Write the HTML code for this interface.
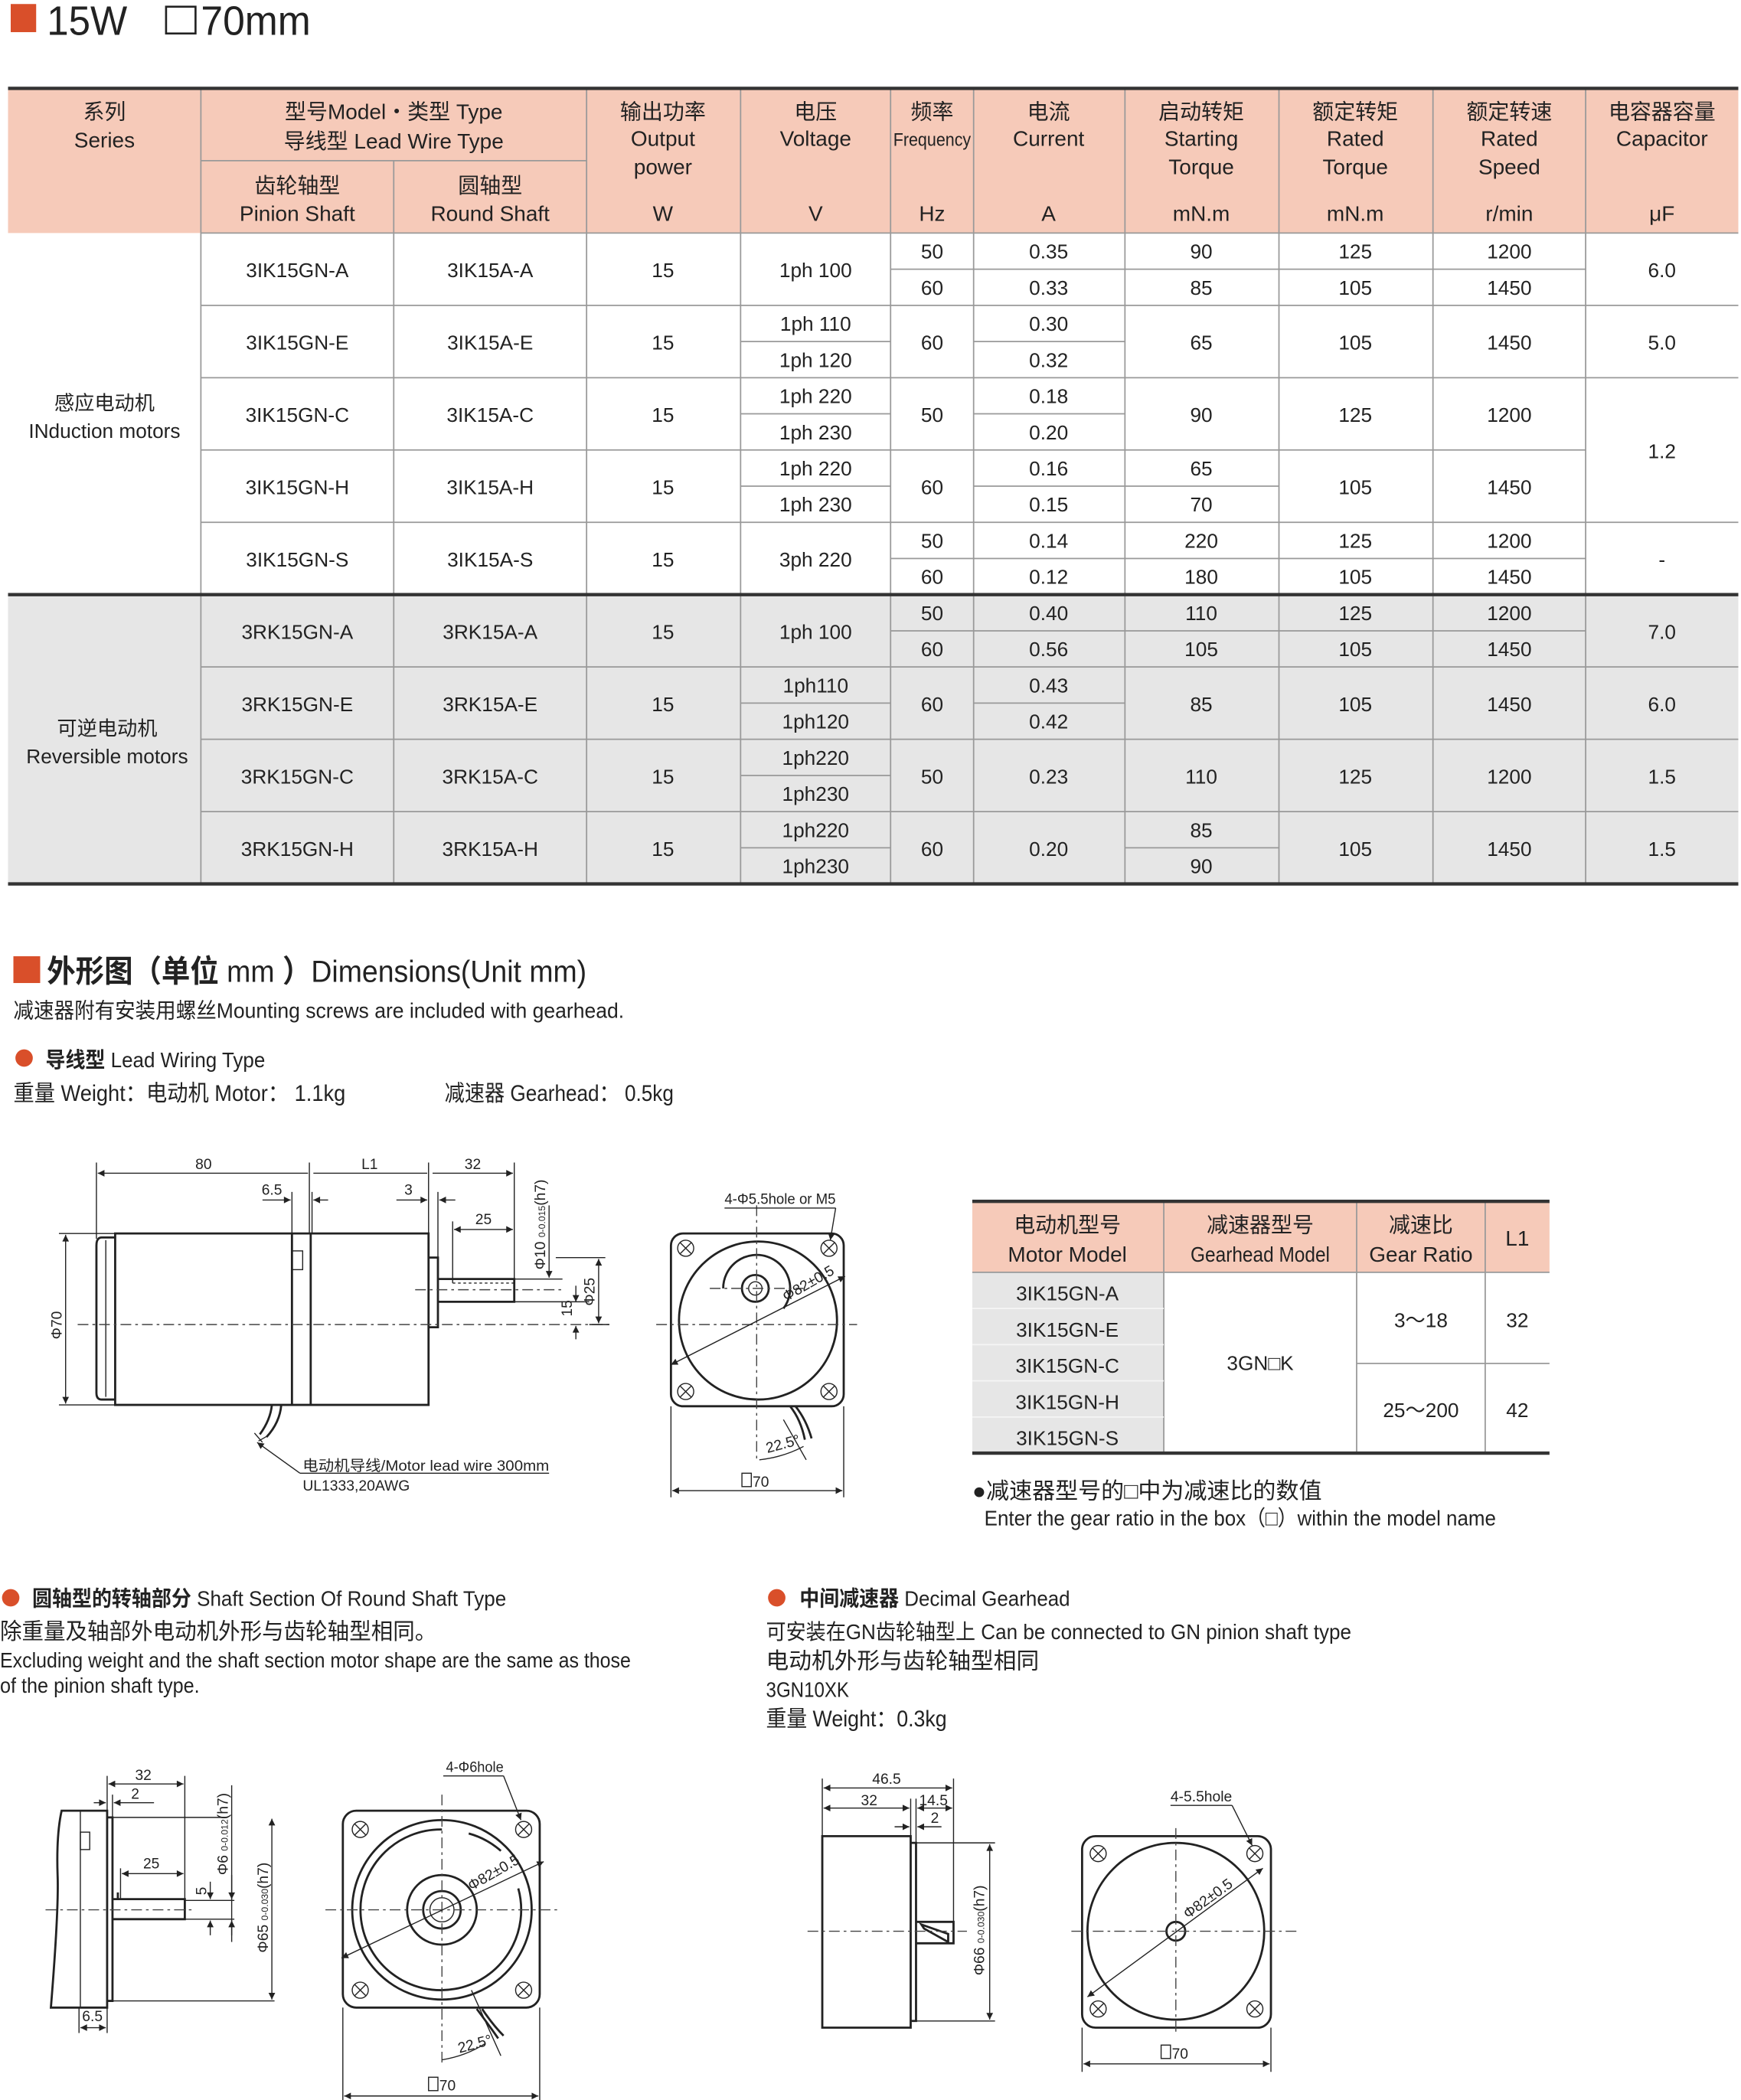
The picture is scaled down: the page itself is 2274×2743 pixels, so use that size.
<!DOCTYPE html>
<html><head><meta charset="utf-8">
<style>
html,body{margin:0;padding:0;background:#fff;}
svg{display:block;}
text{font-family:"Liberation Sans Narrow","Liberation Sans","Noto Sans CJK SC",sans-serif;fill:#222;}
.c{text-anchor:middle;}
.t{font-size:15px;}
.h{font-size:16px;}
.s{font-size:11px;}
.ln{stroke:#999;stroke-width:1;fill:none;}
.tk{stroke:#333;stroke-width:2.5;fill:none;}
.d{stroke:#222;stroke-width:1.6;fill:none;}
.th{stroke:#222;stroke-width:0.8;fill:none;}
.cl{stroke:#444;stroke-width:0.8;stroke-dasharray:8 3 2 3;fill:none;}
.ar{stroke:#222;stroke-width:0.8;fill:none;marker-start:url(#a);marker-end:url(#a);}
.ae{stroke:#222;stroke-width:0.8;fill:none;marker-end:url(#a);}
</style></head><body>
<svg width="2274" height="2743" viewBox="0 0 1300 1568" preserveAspectRatio="none" xmlns="http://www.w3.org/2000/svg">
<defs>
<marker id="a" viewBox="0 0 10 10" refX="10" refY="5" markerWidth="7" markerHeight="5" orient="auto-start-reverse" markerUnits="userSpaceOnUse"><path d="M0,0 L10,5 L0,10 z" fill="#222"/></marker>
</defs>
<rect width="1300" height="1568" fill="#fff"/>

<rect x="8" y="3" width="19" height="21" fill="#d94f2a"/>
<text x="35" y="26" style="font-size:31px" textLength="60" lengthAdjust="spacingAndGlyphs">15W</text>
<rect x="124" y="5" width="22" height="20" fill="none" stroke="#222" stroke-width="1.5"/>
<text x="150" y="26" style="font-size:31px" textLength="82" lengthAdjust="spacingAndGlyphs">70mm</text>

<rect x="6" y="66" width="1292" height="108" fill="#f6cab9"/>
<rect x="6" y="444" width="1292" height="216" fill="#e6e6e6"/>

<g class="ln">
<path d="M150 66V660M294 120V660M438 66V660M553 66V660M665 66V660M727 66V660M840 66V660M955 66V660M1070 66V660M1184 66V660"/>
<path d="M150 120H438M150 174H1298"/>
<path d="M150 228H1298M150 282H1298M150 336H1184M150 390H1298"/>
<path d="M665 201H1184"/>
<path d="M553 255H665M727 255H840"/>
<path d="M553 309H665M727 309H840"/>
<path d="M553 363H665M727 363H955"/>
<path d="M665 417H1184"/>
<path d="M150 498H1298M150 552H1298M150 606H1298"/>
<path d="M665 471H1184"/>
<path d="M553 525H665M727 525H840"/>
<path d="M553 579H665"/>
<path d="M553 633H665M840 633H955"/>
</g>
<g class="tk"><path d="M6 66H1298M6 444H1298M6 660H1298"/></g>

<g class="c h">
<text x="78" y="89">系列</text><text x="78" y="110">Series</text>
<text x="294" y="89">型号Model・类型 Type</text><text x="294" y="111">导线型 Lead Wire Type</text>
<text x="222" y="144">齿轮轴型</text><text x="222" y="165">Pinion Shaft</text>
<text x="366" y="144">圆轴型</text><text x="366" y="165">Round Shaft</text>
<text x="495" y="89">输出功率</text><text x="495" y="109">Output</text><text x="495" y="130">power</text><text x="495" y="165">W</text>
<text x="609" y="89">电压</text><text x="609" y="109">Voltage</text><text x="609" y="165">V</text>
<text x="696" y="89">频率</text><text x="696" y="109" style="font-size:14px" textLength="58" lengthAdjust="spacingAndGlyphs">Frequency</text><text x="696" y="165">Hz</text>
<text x="783" y="89">电流</text><text x="783" y="109">Current</text><text x="783" y="165">A</text>
<text x="897" y="89">启动转矩</text><text x="897" y="109">Starting</text><text x="897" y="130">Torque</text><text x="897" y="165">mN.m</text>
<text x="1012" y="89">额定转矩</text><text x="1012" y="109">Rated</text><text x="1012" y="130">Torque</text><text x="1012" y="165">mN.m</text>
<text x="1127" y="89">额定转速</text><text x="1127" y="109">Rated</text><text x="1127" y="130">Speed</text><text x="1127" y="165">r/min</text>
<text x="1241" y="89">电容器容量</text><text x="1241" y="109">Capacitor</text><text x="1241" y="165">μF</text>
</g>

<g class="c t">
<text x="78" y="306">感应电动机</text><text x="78" y="327">INduction motors</text>
<text x="80" y="549">可逆电动机</text><text x="80" y="570">Reversible motors</text>
<text x="222" y="207">3IK15GN-A</text><text x="366" y="207">3IK15A-A</text><text x="495" y="207">15</text><text x="609" y="207">1ph 100</text>
<text x="696" y="193">50</text><text x="696" y="220">60</text><text x="783" y="193">0.35</text><text x="783" y="220">0.33</text>
<text x="897" y="193">90</text><text x="897" y="220">85</text><text x="1012" y="193">125</text><text x="1012" y="220">105</text>
<text x="1127" y="193">1200</text><text x="1127" y="220">1450</text><text x="1241" y="207">6.0</text>
<text x="222" y="261">3IK15GN-E</text><text x="366" y="261">3IK15A-E</text><text x="495" y="261">15</text>
<text x="609" y="247">1ph 110</text><text x="609" y="274">1ph 120</text><text x="696" y="261">60</text>
<text x="783" y="247">0.30</text><text x="783" y="274">0.32</text><text x="897" y="261">65</text><text x="1012" y="261">105</text><text x="1127" y="261">1450</text><text x="1241" y="261">5.0</text>
<text x="222" y="315">3IK15GN-C</text><text x="366" y="315">3IK15A-C</text><text x="495" y="315">15</text>
<text x="609" y="301">1ph 220</text><text x="609" y="328">1ph 230</text><text x="696" y="315">50</text>
<text x="783" y="301">0.18</text><text x="783" y="328">0.20</text><text x="897" y="315">90</text><text x="1012" y="315">125</text><text x="1127" y="315">1200</text>
<text x="1241" y="342">1.2</text>
<text x="222" y="369">3IK15GN-H</text><text x="366" y="369">3IK15A-H</text><text x="495" y="369">15</text>
<text x="609" y="355">1ph 220</text><text x="609" y="382">1ph 230</text><text x="696" y="369">60</text>
<text x="783" y="355">0.16</text><text x="783" y="382">0.15</text><text x="897" y="355">65</text><text x="897" y="382">70</text><text x="1012" y="369">105</text><text x="1127" y="369">1450</text>
<text x="222" y="423">3IK15GN-S</text><text x="366" y="423">3IK15A-S</text><text x="495" y="423">15</text><text x="609" y="423">3ph 220</text>
<text x="696" y="409">50</text><text x="696" y="436">60</text><text x="783" y="409">0.14</text><text x="783" y="436">0.12</text>
<text x="897" y="409">220</text><text x="897" y="436">180</text><text x="1012" y="409">125</text><text x="1012" y="436">105</text>
<text x="1127" y="409">1200</text><text x="1127" y="436">1450</text><text x="1241" y="423">-</text>
<text x="222" y="477">3RK15GN-A</text><text x="366" y="477">3RK15A-A</text><text x="495" y="477">15</text><text x="609" y="477">1ph 100</text>
<text x="696" y="463">50</text><text x="696" y="490">60</text><text x="783" y="463">0.40</text><text x="783" y="490">0.56</text>
<text x="897" y="463">110</text><text x="897" y="490">105</text><text x="1012" y="463">125</text><text x="1012" y="490">105</text>
<text x="1127" y="463">1200</text><text x="1127" y="490">1450</text><text x="1241" y="477">7.0</text>
<text x="222" y="531">3RK15GN-E</text><text x="366" y="531">3RK15A-E</text><text x="495" y="531">15</text>
<text x="609" y="517">1ph110</text><text x="609" y="544">1ph120</text><text x="696" y="531">60</text>
<text x="783" y="517">0.43</text><text x="783" y="544">0.42</text><text x="897" y="531">85</text><text x="1012" y="531">105</text><text x="1127" y="531">1450</text><text x="1241" y="531">6.0</text>
<text x="222" y="585">3RK15GN-C</text><text x="366" y="585">3RK15A-C</text><text x="495" y="585">15</text>
<text x="609" y="571">1ph220</text><text x="609" y="598">1ph230</text><text x="696" y="585">50</text>
<text x="783" y="585">0.23</text><text x="897" y="585">110</text><text x="1012" y="585">125</text><text x="1127" y="585">1200</text><text x="1241" y="585">1.5</text>
<text x="222" y="639">3RK15GN-H</text><text x="366" y="639">3RK15A-H</text><text x="495" y="639">15</text>
<text x="609" y="625">1ph220</text><text x="609" y="652">1ph230</text><text x="696" y="639">60</text>
<text x="783" y="639">0.20</text><text x="897" y="625">85</text><text x="897" y="652">90</text><text x="1012" y="639">105</text><text x="1127" y="639">1450</text><text x="1241" y="639">1.5</text>
</g>

<rect x="10" y="714" width="20" height="20" fill="#d94f2a"/>
<text x="35" y="733" style="font-size:23px" textLength="403" lengthAdjust="spacingAndGlyphs"><tspan font-weight="bold">外形图（单位</tspan> mm <tspan font-weight="bold">）</tspan>Dimensions(Unit mm)</text>
<text x="10" y="760" style="font-size:16px" textLength="456" lengthAdjust="spacingAndGlyphs">减速器附有安装用螺丝Mounting screws are included with gearhead.</text>
<circle cx="18" cy="790" r="6.5" fill="#d94f2a"/>
<text x="34" y="797" style="font-size:16px" textLength="164" lengthAdjust="spacingAndGlyphs"><tspan font-weight="bold">导线型</tspan> Lead Wiring Type</text>
<text x="10" y="822" style="font-size:17px" textLength="248" lengthAdjust="spacingAndGlyphs">重量 Weight：电动机 Motor： 1.1kg</text>
<text x="332" y="822" style="font-size:17px" textLength="171" lengthAdjust="spacingAndGlyphs">减速器 Gearhead： 0.5kg</text>

<g>
<path class="th" d="M72 868V925M231 868V921M320 868V921M384 868V955M218 890V921M233 890V921M327 890V939M338 912V958M384 912V955"/>
<path class="ar" d="M73 876H230M234 876H319M323 876H383"/>
<text class="c s" x="152" y="873">80</text><text class="c s" x="276" y="873">L1</text><text class="c s" x="353" y="873">32</text>
<path class="ae" d="M196 896H217"/><path class="ae" d="M245 896H234"/><text class="c s" x="203" y="892">6.5</text>
<path class="ae" d="M296 896H319"/><path class="ae" d="M340 896H328"/><text class="c s" x="305" y="892">3</text>
<path class="ar" d="M339 918H383"/><text class="c s" x="361" y="914">25</text>
<path class="d" d="M86 921H320V1049H86Z"/>
<path class="d" d="M86 924H76Q72 924 72 930V1040Q72 1045 76 1045H86"/>
<path class="th" d="M79 926V1043"/>
<path class="d" d="M218 921V1049M232 921V1049"/>
<rect x="218" y="934" width="8" height="14" class="th"/>
<path class="d" d="M320 939H327V991H320"/>
<path class="d" d="M327 955H384V972H327"/>
<path class="th" stroke-dasharray="2 2" d="M338 958H384"/>
<path class="cl" d="M58 989H455M310 963H420"/>
<path class="th" d="M44 921H86M44 1049H86"/>
<path class="ar" d="M49 922V1048"/>
<text class="s" transform="translate(46 1000) rotate(-90)">Φ70</text>
<path class="th" d="M384 955H420M384 972H440M415 939H452M440 989H455"/>
<path class="ae" d="M410 900V954"/>
<text class="s" transform="translate(407 948) rotate(-90)">Φ10 <tspan style="font-size:7px">0-0.015</tspan>(h7)</text>
<path class="ae" d="M430 960V972"/><path class="ae" d="M430 1000V990"/>
<text class="s" transform="translate(427 983) rotate(-90)">15</text>
<path class="ar" d="M447 940V988"/>
<text class="s" transform="translate(444 975) rotate(-90)">Φ25</text>
<path class="d" d="M203 1049Q202 1060 194 1071M210 1049Q209 1062 199 1073"/>
<path class="th" d="M190 1070L196 1077M193 1076L200 1072"/>
<path class="ae" d="M224 1100L192 1077"/>
<path class="th" d="M224 1100H410"/>
<text class="s" x="226" y="1098" textLength="184" lengthAdjust="spacingAndGlyphs">电动机导线/Motor lead wire 300mm</text>
<text class="s" x="226" y="1113" textLength="80" lengthAdjust="spacingAndGlyphs">UL1333,20AWG</text>
</g>

<g>
<rect x="501" y="921" width="129" height="129" rx="9" class="d"/>
<circle cx="566" cy="986" r="59" class="d"/>
<path class="d" d="M540 962A25 25 0 1 1 585 977"/>
<circle cx="564" cy="962" r="10" class="d"/>
<circle cx="564" cy="962" r="5" class="th"/>
<g class="th"><circle cx="512" cy="932" r="6"/><circle cx="619" cy="932" r="6"/><circle cx="512" cy="1039" r="6"/><circle cx="619" cy="1039" r="6"/>
<path d="M508 928L516 936M516 928L508 936M615 928L623 936M623 928L615 936M508 1035L516 1043M516 1035L508 1043M615 1035L623 1043M623 1035L615 1043"/></g>
<path class="cl" d="M565 900V1090M490 989H640M530 962H600"/>
<path class="ar" d="M501 1019L631 953"/>
<text class="s" transform="translate(587 972) rotate(-30)">Φ82±0.5</text>
<text class="s" x="541" y="899" textLength="83" lengthAdjust="spacingAndGlyphs">4-Φ5.5hole or M5</text>
<path class="th" d="M541 902H624"/><path class="ae" d="M624 902L620 926"/>
<path class="d" d="M590 1050Q598 1060 601 1075M594 1050Q602 1060 606 1074"/>
<path class="th" d="M567 1090Q585 1088 600 1080M585 1060L602 1090"/>
<text class="s" x="572" y="1083" transform="rotate(-15 580 1080)">22.5°</text>
<path class="th" d="M501 1050V1118M630 1050V1118"/>
<path class="ar" d="M502 1113H629"/>
<rect x="554" y="1100" width="7" height="10" class="th"/>
<text class="s" x="562" y="1110">70</text>
</g>

<rect x="726" y="897" width="431" height="53" fill="#f6cab9"/>
<rect x="726" y="950" width="143" height="135" fill="#e6e6e6"/>
<g class="ln"><path d="M869 897V1085M1013 897V1085M1109 897V1085M1013 1018H1157M726 950H1157"/>
<path stroke="#f5f5f5" d="M726 977H869M726 1004H869M726 1031H869M726 1058H869"/></g>
<g class="tk"><path d="M726 897H1157M726 1085H1157"/></g>
<g class="c h">
<text x="797" y="920">电动机型号</text><text x="797" y="942">Motor Model</text>
<text x="941" y="920">减速器型号</text><text x="941" y="942" textLength="104" lengthAdjust="spacingAndGlyphs">Gearhead Model</text>
<text x="1061" y="920">减速比</text><text x="1061" y="942">Gear Ratio</text>
<text x="1133" y="930">L1</text>
</g>
<g class="c t">
<text x="797" y="971">3IK15GN-A</text><text x="797" y="998">3IK15GN-E</text><text x="797" y="1025">3IK15GN-C</text><text x="797" y="1052">3IK15GN-H</text><text x="797" y="1079">3IK15GN-S</text>
<text x="941" y="1023">3GN□K</text>
<text x="1061" y="991">3～18</text><text x="1133" y="991">32</text>
<text x="1061" y="1058">25～200</text><text x="1133" y="1058">42</text>
</g>
<text x="726" y="1119" style="font-size:17px" textLength="261" lengthAdjust="spacingAndGlyphs">●减速器型号的□中为减速比的数值</text>
<text x="735" y="1139" style="font-size:16px" textLength="382" lengthAdjust="spacingAndGlyphs">Enter the gear ratio in the box（□）within the model name</text>

<circle cx="8" cy="1193" r="6.5" fill="#d94f2a"/>
<text x="24" y="1199" style="font-size:16px" textLength="354" lengthAdjust="spacingAndGlyphs"><tspan font-weight="bold">圆轴型的转轴部分</tspan> Shaft Section Of Round Shaft Type</text>
<text x="0" y="1224" style="font-size:17px" textLength="326" lengthAdjust="spacingAndGlyphs">除重量及轴部外电动机外形与齿轮轴型相同。</text>
<text x="0" y="1245" style="font-size:16px" textLength="471" lengthAdjust="spacingAndGlyphs">Excluding weight and the shaft section motor shape are the same as those</text>
<text x="0" y="1264" style="font-size:16px" textLength="149" lengthAdjust="spacingAndGlyphs">of the pinion shaft type.</text>

<circle cx="580" cy="1193" r="6.5" fill="#d94f2a"/>
<text x="597" y="1199" style="font-size:16px" textLength="202" lengthAdjust="spacingAndGlyphs"><tspan font-weight="bold">中间减速器</tspan> Decimal Gearhead</text>
<text x="572" y="1224" style="font-size:16px" textLength="437" lengthAdjust="spacingAndGlyphs">可安装在GN齿轮轴型上 Can be connected to GN pinion shaft type</text>
<text x="572" y="1246" style="font-size:17px">电动机外形与齿轮轴型相同</text>
<text x="572" y="1267" style="font-size:16px" textLength="62" lengthAdjust="spacingAndGlyphs">3GN10XK</text>
<text x="572" y="1289" style="font-size:17px" textLength="135" lengthAdjust="spacingAndGlyphs">重量 Weight：0.3kg</text>

<g>
<path class="d" d="M46 1352H80V1499H38Q44 1425 43 1400Q42 1370 46 1352Z"/>
<path class="th" d="M60 1352V1499"/>
<rect x="60" y="1368" width="7" height="13" class="th"/>
<path class="d" d="M80 1357H84V1494H80"/>
<path class="d" d="M84 1418H138V1433H84M88 1418V1413"/>
<path class="cl" d="M34 1426H145"/>
<path class="th" d="M80 1326V1352M138 1326V1418M84 1340V1357M84 1357H170M84 1494H205M138 1419H175M138 1433H175"/>
<path class="ar" d="M81 1332H137"/><text class="c s" x="107" y="1329">32</text>
<path class="ae" d="M70 1346H79"/><path class="ae" d="M115 1346H85"/><text class="c s" x="101" y="1343">2</text>
<path class="th" d="M90 1395V1418"/>
<path class="ar" d="M91 1399H137"/><text class="c s" x="113" y="1395">25</text>
<path class="th" d="M59 1499V1518M80 1499V1518"/>
<path class="ar" d="M60 1514H79"/><text class="c s" x="69" y="1509">6.5</text>
<path class="th" d="M173 1333V1445"/><path class="ae" d="M173 1400V1418"/><path class="ae" d="M173 1450V1434"/>
<text class="s" transform="translate(170 1400) rotate(-90)">Φ6 <tspan style="font-size:7px">0-0.012</tspan>(h7)</text>
<path class="ae" d="M157 1405V1418"/><path class="ae" d="M157 1445V1434"/>
<text class="s" transform="translate(154 1415) rotate(-90)">5</text>
<path class="ar" d="M203 1358V1493"/>
<text class="s" transform="translate(200 1458) rotate(-90)">Φ65 <tspan style="font-size:7px">0-0.030</tspan>(h7)</text>
</g>
<g>
<rect x="256" y="1352" width="147" height="147" rx="10" class="d"/>
<circle cx="330" cy="1426" r="67" class="d"/>
<path class="d" d="M330 1366A60 60 0 1 0 387 1410M374 1382A60 60 0 0 0 350 1369"/>
<circle cx="330" cy="1426" r="26" class="d"/>
<circle cx="330" cy="1426" r="14" class="d"/>
<circle cx="330" cy="1426" r="9" class="th"/>
<g class="th"><circle cx="269" cy="1366" r="6"/><circle cx="391" cy="1366" r="6"/><circle cx="269" cy="1486" r="6"/><circle cx="391" cy="1486" r="6"/>
<path d="M265 1362L273 1370M273 1362L265 1370M387 1362L395 1370M395 1362L387 1370M265 1482L273 1490M273 1482L265 1490M387 1482L395 1490M395 1482L387 1490"/></g>
<path class="cl" d="M330 1340V1540M243 1426H418"/>
<path class="ar" d="M255 1462L406 1390"/>
<text class="s" transform="translate(352 1412) rotate(-30)">Φ82±0.5</text>
<text class="s" x="333" y="1323" textLength="43" lengthAdjust="spacingAndGlyphs">4-Φ6hole</text>
<path class="th" d="M331 1326H376"/><path class="ae" d="M376 1326L389 1359"/>
<path class="d" d="M356 1500Q365 1512 372 1522M360 1500Q368 1512 376 1520"/>
<path class="th" d="M330 1538Q348 1535 362 1526M352 1486L374 1535"/>
<text class="s" x="342" y="1531" transform="rotate(-15 350 1528)">22.5°</text>
<path class="th" d="M256 1499V1568M403 1499V1568"/>
<path class="ar" d="M257 1565H402"/>
<rect x="320" y="1551" width="7" height="10" class="th"/>
<text class="s" x="328" y="1561">70</text>
</g>

<g>
<path class="d" d="M614 1371H680V1514H614Z"/>
<path class="d" d="M680 1376H684V1509H680"/>
<path class="d" d="M684 1435H712V1451H684"/>
<path class="d" d="M688 1437L708 1444V1450L690 1440Z"/>
<path class="cl" d="M603 1442H722"/>
<path class="th" d="M614 1328V1371M712 1328V1435M680 1343V1371M684 1343V1376M684 1376H743M684 1509H743"/>
<path class="ar" d="M615 1335H711"/><text class="c s" x="662" y="1332">46.5</text>
<path class="ar" d="M615 1350H679"/><text class="c s" x="649" y="1348">32</text>
<path class="ar" d="M685 1350H711"/><text class="c s" x="697" y="1348">14.5</text>
<path class="ae" d="M668 1364H679"/><path class="ae" d="M703 1364H685"/><text class="c s" x="698" y="1361">2</text>
<path class="ar" d="M739 1377V1508"/>
<text class="s" transform="translate(735 1475) rotate(-90)">Φ66 <tspan style="font-size:7px">0-0.030</tspan>(h7)</text>
</g>
<g>
<rect x="808" y="1371" width="141" height="143" rx="10" class="d"/>
<circle cx="878" cy="1442" r="66" class="d"/>
<circle cx="878" cy="1442" r="7" class="d" stroke-width="2.4"/>
<g class="th"><circle cx="820" cy="1384" r="6"/><circle cx="937" cy="1384" r="6"/><circle cx="820" cy="1500" r="6"/><circle cx="937" cy="1500" r="6"/>
<path d="M816 1380L824 1388M824 1380L816 1388M933 1380L941 1388M941 1380L933 1388M816 1496L824 1504M824 1496L816 1504M933 1496L941 1504M941 1496L933 1504"/></g>
<path class="cl" d="M878 1365V1520M800 1442H968"/>
<path class="ar" d="M812 1491L943 1395"/>
<text class="s" transform="translate(887 1433) rotate(-36)">Φ82±0.5</text>
<text class="s" x="874" y="1345" textLength="46" lengthAdjust="spacingAndGlyphs">4-5.5hole</text>
<path class="th" d="M874 1348H920"/><path class="ae" d="M920 1348L935 1378"/>
<path class="th" d="M808 1514V1547M949 1514V1547"/>
<path class="ar" d="M809 1541H948"/>
<rect x="867" y="1527" width="7" height="10" class="th"/>
<text class="s" x="875" y="1537">70</text>
</g>
</svg>
</body></html>
